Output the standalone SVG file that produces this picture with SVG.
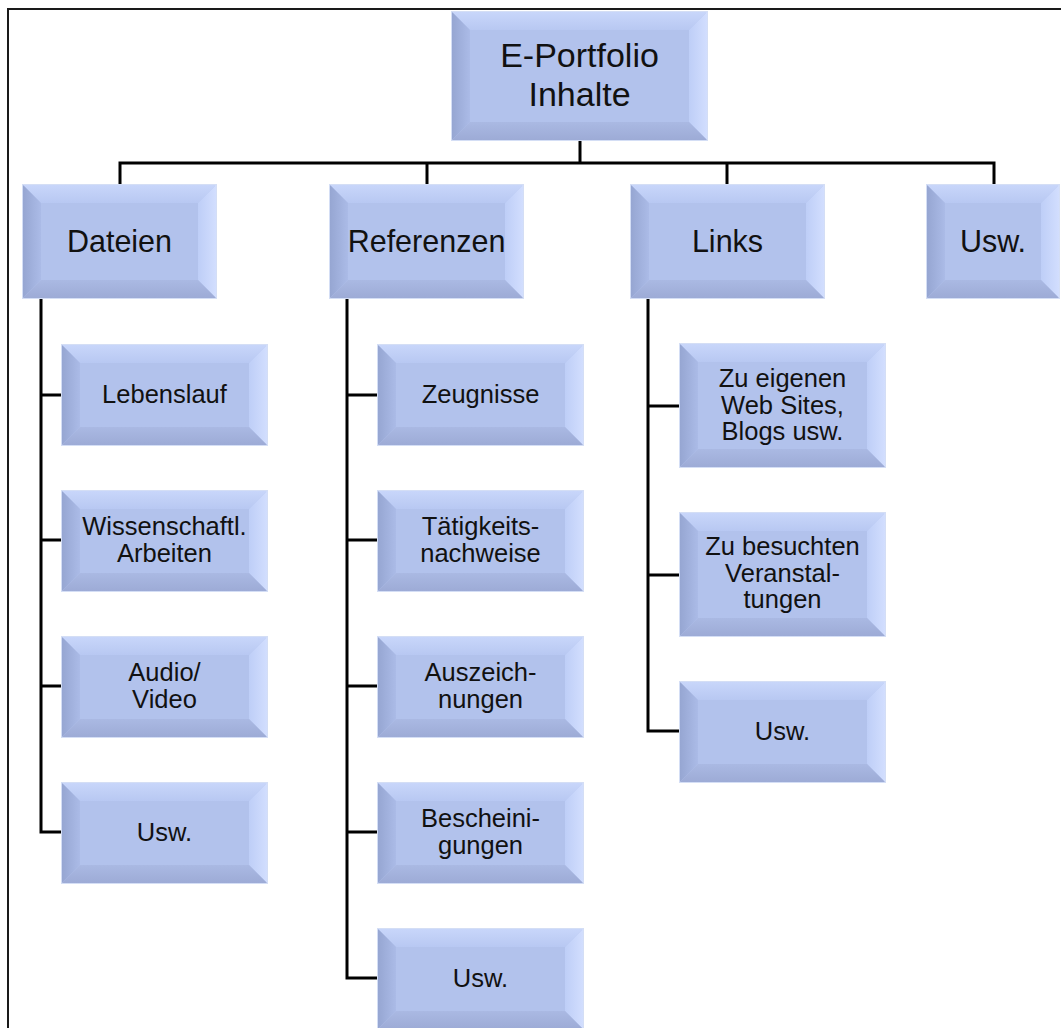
<svg xmlns="http://www.w3.org/2000/svg" xmlns:xlink="http://www.w3.org/1999/xlink" width="1061" height="1028" viewBox="0 0 1061 1028">
<defs>
<style>
text{font-family:"Liberation Sans",Arial,sans-serif;fill:#111;text-anchor:middle}
.t0{font-size:34px}
.t1{font-size:30.5px}
.t2{font-size:25.5px}
.c{fill:#B2C2EC;stroke:#D4DEF5;stroke-width:2}
.ft{fill:url(#gTop)}
.fl{fill:url(#gLeft)}
.fr{fill:url(#gRight)}
.fb{fill:url(#gBot)}
.ln{fill:none;stroke:#000;stroke-width:3}
.frame{fill:none;stroke:#1a1a1a;stroke-width:2}
</style>
<linearGradient id="gTop" x1="0" y1="0" x2="0" y2="1"><stop offset="0" stop-color="#C8D6FA"/><stop offset="1" stop-color="#B8C8F2"/></linearGradient>
<linearGradient id="gLeft" x1="0" y1="0" x2="1" y2="0"><stop offset="0" stop-color="#96A6D2"/><stop offset="1" stop-color="#ABBBE7"/></linearGradient>
<linearGradient id="gRight" x1="0" y1="0" x2="1" y2="0"><stop offset="0" stop-color="#BECEF7"/><stop offset="1" stop-color="#D2DEFE"/></linearGradient>
<linearGradient id="gBot" x1="0" y1="0" x2="0" y2="1"><stop offset="0" stop-color="#AAB9E3"/><stop offset="1" stop-color="#9DABD6"/></linearGradient>
<g id="bevA">
<rect class="c" x="0" y="0" width="255" height="128"/>
<polygon class="ft" points="0,0 255,0 237,18 18,18"/>
<polygon class="fl" points="0,0 18,18 18,110 0,128"/>
<polygon class="fr" points="255,0 255,128 237,110 237,18"/>
<polygon class="fb" points="0,128 18,110 237,110 255,128"/>
</g>
<g id="bevB">
<rect class="c" x="0" y="0" width="193" height="113"/>
<polygon class="ft" points="0,0 193,0 175,18 18,18"/>
<polygon class="fl" points="0,0 18,18 18,95 0,113"/>
<polygon class="fr" points="193,0 193,113 175,95 175,18"/>
<polygon class="fb" points="0,113 18,95 175,95 193,113"/>
</g>
<g id="bevC">
<rect class="c" x="0" y="0" width="132" height="113"/>
<polygon class="ft" points="0,0 132,0 114,18 18,18"/>
<polygon class="fl" points="0,0 18,18 18,95 0,113"/>
<polygon class="fr" points="132,0 132,113 114,95 114,18"/>
<polygon class="fb" points="0,113 18,95 114,95 132,113"/>
</g>
<g id="bevD">
<rect class="c" x="0" y="0" width="205" height="100"/>
<polygon class="ft" points="0,0 205,0 187,18 18,18"/>
<polygon class="fl" points="0,0 18,18 18,82 0,100"/>
<polygon class="fr" points="205,0 205,100 187,82 187,18"/>
<polygon class="fb" points="0,100 18,82 187,82 205,100"/>
</g>
<g id="bevE">
<rect class="c" x="0" y="0" width="205" height="123"/>
<polygon class="ft" points="0,0 205,0 187,18 18,18"/>
<polygon class="fl" points="0,0 18,18 18,105 0,123"/>
<polygon class="fr" points="205,0 205,123 187,105 187,18"/>
<polygon class="fb" points="0,123 18,105 187,105 205,123"/>
</g>
</defs>
<rect x="0" y="0" width="1061" height="1028" fill="#fff"/>
<path class="frame" d="M8,1028 V9 H1061"/>
<g id="connectors">
<path class="ln" d="M580,140 V163"/>
<path class="ln" d="M120,185 V163 H994 V185"/>
<path class="ln" d="M427,163 V185"/>
<path class="ln" d="M727,163 V185"/>
<path class="ln" d="M41,298 V832 H62"/>
<path class="ln" d="M41,395 H62 M41,540 H62 M41,686 H62"/>
<path class="ln" d="M347,298 V978 H378"/>
<path class="ln" d="M347,395 H378 M347,540 H378 M347,686 H378 M347,832 H378"/>
<path class="ln" d="M648,298 V731 H680"/>
<path class="ln" d="M648,406 H680 M648,575 H680"/>
</g>
<g id="root"><use xlink:href="#bevA" x="452" y="12"/><text class="t0" x="579.5" y="67">E-Portfolio</text><text class="t0" x="579.5" y="106">Inhalte</text></g>
<g id="dateien"><use xlink:href="#bevB" x="23" y="185"/><text class="t1" x="119.5" y="252">Dateien</text></g>
<g id="referenzen"><use xlink:href="#bevB" x="330" y="185"/><text class="t1" x="426.5" y="252">Referenzen</text></g>
<g id="links"><use xlink:href="#bevB" x="631" y="185"/><text class="t1" x="727.5" y="252">Links</text></g>
<g id="usw-top"><use xlink:href="#bevC" x="927" y="185"/><text class="t1" x="993" y="252">Usw.</text></g>
<g id="lebenslauf"><use xlink:href="#bevD" x="62" y="345"/><text class="t2" x="164.5" y="403">Lebenslauf</text></g>
<g id="wissenschaftl"><use xlink:href="#bevD" x="62" y="491"/><text class="t2" x="164.5" y="535">Wissenschaftl.</text><text class="t2" x="164.5" y="562">Arbeiten</text></g>
<g id="audio-video"><use xlink:href="#bevD" x="62" y="637"/><text class="t2" x="164.5" y="681">Audio/</text><text class="t2" x="164.5" y="708">Video</text></g>
<g id="usw-dateien"><use xlink:href="#bevD" x="62" y="783"/><text class="t2" x="164.5" y="841">Usw.</text></g>
<g id="zeugnisse"><use xlink:href="#bevD" x="378" y="345"/><text class="t2" x="480.5" y="403">Zeugnisse</text></g>
<g id="taetigkeit"><use xlink:href="#bevD" x="378" y="491"/><text class="t2" x="480.5" y="535">Tätigkeits-</text><text class="t2" x="480.5" y="562">nachweise</text></g>
<g id="auszeichnungen"><use xlink:href="#bevD" x="378" y="637"/><text class="t2" x="480.5" y="681">Auszeich-</text><text class="t2" x="480.5" y="708">nungen</text></g>
<g id="bescheinigungen"><use xlink:href="#bevD" x="378" y="783"/><text class="t2" x="480.5" y="827">Bescheini-</text><text class="t2" x="480.5" y="854">gungen</text></g>
<g id="usw-referenzen"><use xlink:href="#bevD" x="378" y="929"/><text class="t2" x="480.5" y="987">Usw.</text></g>
<g id="zu-eigenen"><use xlink:href="#bevE" x="680" y="344"/><text class="t2" x="782.5" y="387">Zu eigenen</text><text class="t2" x="782.5" y="414">Web Sites,</text><text class="t2" x="782.5" y="440">Blogs usw.</text></g>
<g id="zu-besuchten"><use xlink:href="#bevE" x="680" y="513"/><text class="t2" x="782.5" y="555">Zu besuchten</text><text class="t2" x="782.5" y="581.5">Veranstal-</text><text class="t2" x="782.5" y="608">tungen</text></g>
<g id="usw-links"><use xlink:href="#bevD" x="680" y="682"/><text class="t2" x="782.5" y="740">Usw.</text></g>
</svg>
